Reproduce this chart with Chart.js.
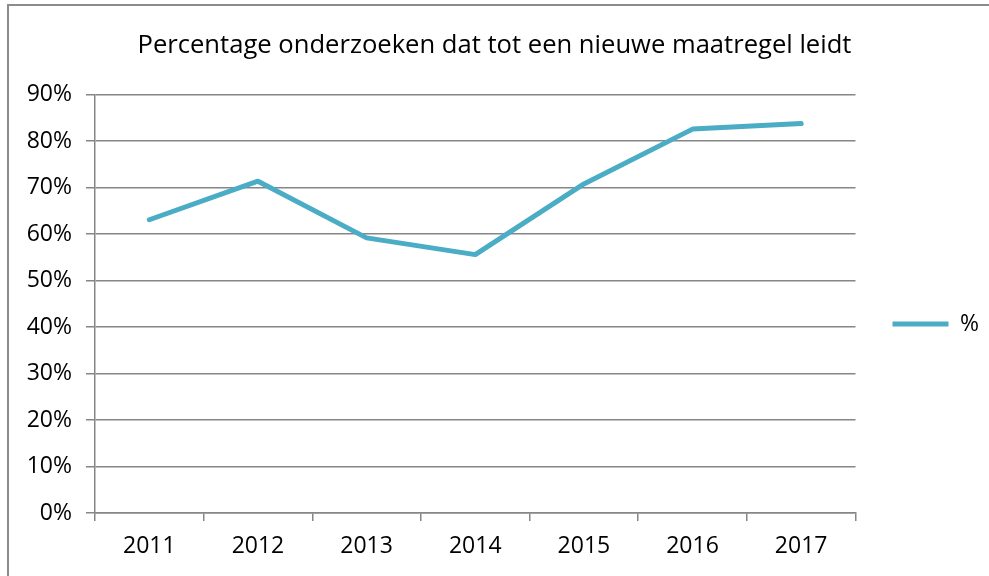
<!DOCTYPE html>
<html>
<head>
<meta charset="utf-8">
<script src="https://cdn.jsdelivr.net/npm/chart.js@4"></script>
<style>
  html, body { margin: 0; padding: 0; background: #fff; overflow: hidden; }
  #wrap { position: relative; width: 989px; height: 576px; }
  #frame {
    position: absolute; left: 7px; top: 4px; width: 1000px; height: 600px;
    border-left: 2px solid #8c8c8c; border-top: 2px solid #8c8c8c;
    pointer-events: none;
  }
</style>
</head>
<body>
<div id="wrap">
  <canvas id="pctChart" width="989" height="576"></canvas>
  <div id="frame"></div>
</div>
<script>
const years = ["2011", "2012", "2013", "2014", "2015", "2016", "2017"];
const percentages = [63.1, 71.4, 59.2, 55.6, 70.8, 82.6, 83.8];
const seriesName = "%";
const chartTitle = "Percentage onderzoeken dat tot een nieuwe maatregel leidt";

const gridColor = "#868686";
const lineColor = "#4BACC6";
const fontFamily = "'Open Sans', 'Liberation Sans', sans-serif";

function createPctChart() {
  const data = {
    labels: years,
    datasets: [
      {
        label: seriesName,
        data: percentages,
        borderColor: lineColor,
        backgroundColor: lineColor,
        borderWidth: 5,
        borderCapStyle: "round",
        borderJoinStyle: "round",
        pointRadius: 0,
        fill: false,
        tension: 0,
      },
    ],
  };

  const config = {
    type: "line",
    data: data,
    options: {
      responsive: false,
      animation: false,
      layout: { padding: { left: 0, right: 0, top: 0, bottom: 0 } },
      scales: {
        x: {
          offset: true,
          grid: {
            offset: true,
            drawOnChartArea: false,
            color: gridColor,
            lineWidth: 1.5,
            tickLength: 8,
          },
          border: { color: gridColor, width: 1.5 },
          ticks: { color: "#000", font: { family: fontFamily, size: 23 }, padding: 12 },
          afterFit: (scale) => { scale.height = 63; },
        },
        y: {
          min: 0,
          max: 90,
          grid: { color: gridColor, lineWidth: 1.5, tickLength: 9 },
          border: { color: gridColor, width: 1.5 },
          ticks: {
            stepSize: 10,
            color: "#000",
            font: { family: fontFamily, size: 23 },
            padding: 14,
            callback: (v) => v + "%",
          },
          afterFit: (scale) => { scale.width = 95; },
        },
      },
      plugins: {
        title: {
          display: true,
          text: chartTitle,
          color: "#000",
          font: { family: fontFamily, size: 25.6, weight: "normal" },
          padding: { top: 30, bottom: 34 },
        },
        legend: {
          position: "right",
          title: { display: true, text: " ", font: { size: 20 }, padding: 24 },
          labels: {
            usePointStyle: true,
            pointStyle: "line",
            pointStyleWidth: 56,
            color: "#000",
            font: { family: fontFamily, size: 23 },
            padding: 37,
          },
        },
        tooltip: { enabled: false },
      },
    },
  };

  const ctx = document.getElementById("pctChart");
  new Chart(ctx, config);
}

document.addEventListener("DOMContentLoaded", () => {
  createPctChart();
});
</script>
</body>
</html>
